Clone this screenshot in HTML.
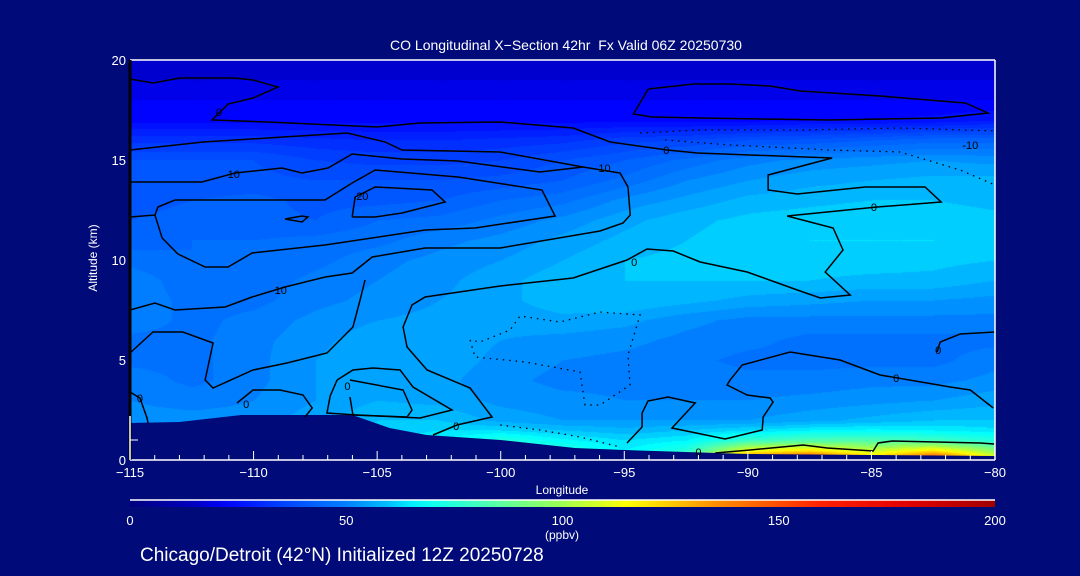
<!DOCTYPE html>
<html><head><meta charset="utf-8">
<style>
html,body{margin:0;padding:0;background:#000a78;}
#wrap{position:relative;width:1080px;height:576px;overflow:hidden;background:#000a78;font-family:"Liberation Sans",sans-serif;}
canvas{position:absolute;left:130px;top:60px;}
svg{position:absolute;left:0;top:0;}
</style></head>
<body>
<div id="wrap">
<canvas id="field" width="865" height="400"></canvas>
<svg id="ov" width="1080" height="576"></svg>
</div>
<script>
// ---- data ----
const gridLon = [-115,-112.5,-110,-107.5,-105,-102.5,-100,-97.5,-95,-92.5,-90,-87.5,-85,-82.5,-80];
const gridAlt = [0,0.5,1,1.5,2,3,4,5,6,7,8,9,10,11,12,13,14,15,16,17,18,19,20];
const row0  = [56,56,56,60,63,67,88,80,67,95,150,170,130,165,118];
const row05 = [56,56,56,60,63,67,80,74,66,74,112,118,105,118,95];
const row1  = [54,54,54,58,61,66,74,67,63,66,78,83,83,80,74];
const row1p5= [53,53,53,57,61,63,63,60,58,60,63,66,67,66,64];
const row2  = [52,52,52,56,60,60,56,54,54,54,54,56,58,60,60];
const row3  = [51,50,51,54,57,56,53,52,51,51,51,52,53,54,56];
const row4  = [50,47,50,54,57,55,52,50,50,50,49,49,50,50,52];
const row5  = [47,47,50,54,57,56,53,51,50,49,47,47,47,47,50];
const row6  = [47,47,50,53,56,56,54,53,52,50,49,47,47,47,47];
const row7  = [50,47,49,52,54,55,55,56,55,52,50,50,50,50,50];
const row8  = [50,47,47,50,52,54,56,59,60,58,56,55,54,54,53];
const row9  = [50,46,46,49,51,53,56,59,60,60,60,60,59,59,57];
const row10 = [47,45,45,47,50,52,54,57,60,61,61,62,62,61,60];
const row11 = [43,45,45,46,47,50,52,55,58,60,62,63,63,63,61];
const row12 = [42,43,43,42,45,46,49,52,56,59,61,62,63,62,61];
const row13 = [41,42,43,41,41,42,45,47,52,55,58,59,60,60,59];
const row14 = [40,40,40,39,39,39,40,42,46,51,54,56,57,58,58];
const row15 = [39,39,39,36,35,35,36,39,42,46,50,52,53,54,53];
const row16 = [32,32,32,31,30,30,31,32,35,36,39,40,42,44,44];
const row17 = [23,23,23,23,23,23,23,23,23,23,23,24,24,25,27];
const row18 = [21,21,21,21,21,21,21,21,21,21,21,21,21,21,21];
const row19 = [18,18,18,18,18,18,18,18,18,18,18,18,18,18,18];
const row20 = [17,17,17,17,17,17,17,17,17,17,17,17,17,17,17];
const terrainLon = [-115,-113,-110.5,-106,-104.5,-103,-100,-97,-95,-90,-85,-80];
const terrainAlt = [1.85,1.9,2.25,2.25,1.6,1.25,1.0,0.6,0.5,0.3,0.25,0.2];
const xTicks = [-115,-110,-105,-100,-95,-90,-85,-80];
const yTicks = [0,5,10,15,20];
const cbTicks = [0,50,100,150,200];
const cA_lon=[-115,-114.07,-112.98,-110.75,-110.02,-109.01,-110.02,-111.03,-111.68,-109.45,-105,-103.26,-100.02,-97.07,-95.57,-93.26,-92.05,-86.59,-89.18,-89.18,-88,-85.25,-82.83,-82.18,-84.77,-88.41,-86.55,-86.15,-86.87,-85.86,-87.07,-88,-90.03,-91.93,-93.02,-94.08,-94.89,-97.07,-100.02,-103.06,-103.59,-103.95,-103.79,-102.98,-101.24,-100.35,-101.77,-102.74];
const cA_alt=[19.05,18.85,19.1,19.1,19.0,18.65,18.1,17.8,17.0,16.9,16.65,16.85,16.9,16.6,15.9,15.5,15.35,15.1,14.25,13.5,13.3,13.65,13.65,12.9,12.65,12.2,11.6,10.5,9.4,8.25,8.1,8.5,9.4,9.9,10.45,10.55,10.0,9.1,8.7,8.15,7.75,6.65,5.65,4.5,3.6,2.15,1.75,1.25];
const cB_lon=[-94.03,-92.21,-90.72,-89.1,-87.88,-84.65,-81.2,-80.28,-82.2,-86.67,-91.92,-93.87,-94.63,-94.03];
const cB_alt=[18.55,18.8,18.8,18.7,18.45,18.2,17.85,17.35,17.1,17.0,17.1,17.15,17.3,18.55];
const cC_lon=[-115,-112.04,-106.21,-104.68,-103.99,-100.02,-96.67,-95.17,-94.85,-94.76,-95.05,-95.98,-100.02,-103.06,-105.2,-106.01,-107.1,-108.73,-110.06,-111.15,-113.18,-113.99,-115];
const cC_alt=[15.5,15.9,16.35,15.9,15.5,15.4,14.65,14.35,13.65,12.25,11.85,11.45,10.6,10.6,10.15,9.35,9.15,8.65,8.15,7.65,7.5,7.85,7.5];
const cD_lon=[-115,-112.09,-110.75,-108.85,-108.04,-106.99,-106.01,-103.99,-101.73,-98.41,-96.67];
const cD_alt=[13.9,13.9,14.35,14.6,14.35,14.6,15.3,15.05,14.95,14.4,14.65];
const cE_lon=[-115,-113.99,-113.7,-113.06,-111.96,-111.03,-110.06,-107.11,-103.06,-101.04,-97.8,-98.33,-101.73,-105.08,-106.01,-107.11,-110.06,-113.18,-113.87,-113.99];
const cE_alt=[12.15,12.25,11.1,10.3,9.65,9.65,10.35,10.75,11.5,11.6,12.2,13.5,14.15,14.5,13.85,13.0,13.0,13.0,12.65,12.25];
const cF_lon=[-106.01,-105.89,-105.08,-102.78,-102.25,-103.99,-105.08,-106.01];
const cF_alt=[12.15,13.15,13.65,13.5,12.9,12.35,12.15,12.15];
const cG_lon=[-108.73,-108.04,-107.8,-108.04,-108.73];
const cG_alt=[12.05,12.2,12.15,11.9,12.05];
const cH_lon=[-115,-114.07,-112.86,-111.64,-111.96,-111.64,-110.02,-108.65,-107.03,-105.98,-105.69,-105.49];
const cH_alt=[5.35,6.4,6.4,5.85,4.0,3.6,4.5,4.85,5.35,6.65,8.0,9.0];
const cI_lon=[-106.62,-105.98,-105.17,-104.07,-103.55,-101.97,-103.26,-105.81,-107.03,-106.9,-106.62];
const cI_alt=[4.0,4.5,4.6,4.5,3.65,2.5,2.1,2.25,2.35,3.2,4.0];
const cJ_lon=[-106.1,-103.95,-103.59,-103.79,-105.98,-106.1];
const cJ_alt=[4.0,3.5,2.5,2.15,2.25,3.15];
const cK_lon=[-110.67,-110.02,-108.93,-108.0,-107.63,-107.92];
const cK_alt=[2.85,3.5,3.5,3.25,2.6,2.15];
const cL_lon=[-115,-114.6,-114.31,-114.27];
const cL_alt=[3.4,3.1,2.1,1.85];
const cM_lon=[-94.89,-94.28,-94.28,-94.04,-93.23,-92.13,-93.07,-90.92,-89.42,-89.38,-88.98,-89.1,-90.03,-90.84,-90.72,-90.23,-88.29,-86.27,-84.65,-81.81,-81.0,-80.07];
const cM_alt=[0.85,1.65,2.35,2.95,3.15,2.85,1.6,1.05,1.5,2.15,2.9,3.1,3.25,3.75,4.0,4.75,5.4,5.0,4.25,3.65,3.5,2.6];
const cN_lon=[-80,-81.41,-82.22,-82.34];
const cN_alt=[6.4,6.3,5.9,5.4];
const cO_lon=[-91.32,-89.91,-87.76,-86.79,-84.93,-84.73,-84.16,-80.6,-80.03];
const cO_alt=[0.35,0.5,0.75,0.6,0.45,0.85,0.95,0.85,0.8];
const dA_lon=[-101.24,-101.04,-99.01,-96.79,-96.59,-95.98,-94.77,-94.85,-94.36,-95.98,-97.6,-99.22,-99.62,-100.84,-101.24];
const dA_alt=[6.0,5.15,4.9,4.4,2.75,2.75,3.75,5.25,7.25,7.4,6.9,7.2,6.5,5.9,6.0];
const dB_lon=[-100.02,-98.41,-96.79,-95.17];
const dB_alt=[1.75,1.5,1.15,0.65];
const dC_lon=[-94.36,-91.93,-87.89,-83.84,-80];
const dC_alt=[16.35,16.5,16.5,16.6,16.45];
const dD_lon=[-93.35,-90.72,-86.67,-83.84,-81.41,-80];
const dD_alt=[16.0,15.75,15.5,15.4,14.5,13.75];
const labelText=["0","10","20","10","0","10","0","0","-10","0","0","0","0","0","0","0"];
const labelLon=[-111.4,-110.8,-105.6,-108.9,-93.3,-95.8,-94.6,-84.9,-81.0,-84.0,-82.3,-101.8,-92.0,-114.6,-110.3,-106.2];
const labelAlt=[17.4,14.3,13.2,8.5,15.5,14.6,9.9,12.65,15.75,4.1,5.5,1.7,0.4,3.1,2.8,3.7];
const rows=[row0,row05,row1,row1p5,row2,row3,row4,row5,row6,row7,row8,row9,row10,row11,row12,row13,row14,row15,row16,row17,row18,row19,row20];

const X0=130,X1=995,Y0=460,Y1=60;
const xs=lon=>X0+(lon+115)/35*(X1-X0);
const ys=alt=>Y0-alt/20*(Y0-Y1);
const cbx=v=>130+v/200*865;

const cmV=[0,15,22,35,50,60,67,80,100,115,135,160,180,200];
const cmC=[[0,0,128],[0,0,192],[0,0,255],[0,64,255],[0,128,255],[0,192,255],[0,255,255],[64,255,192],[160,255,80],[255,255,0],[255,144,0],[255,32,0],[224,0,0],[160,0,0]];
function cmap(v){
  v=Math.max(0,Math.min(200,v));
  for(let i=0;i<cmV.length-1;i++){
    if(v<=cmV[i+1]){const t=(v-cmV[i])/(cmV[i+1]-cmV[i]);
      return cmC[i].map((c,k)=>Math.round(c+(cmC[i+1][k]-c)*t));}
  }
  return cmC[cmC.length-1];
}
function interp(arrX,v){
  for(let i=0;i<arrX.length-1;i++){ if(v<=arrX[i+1]) return [i,Math.max(0,(v-arrX[i])/(arrX[i+1]-arrX[i]))]; }
  return [arrX.length-2,1];
}
const cv=document.getElementById('field');const ctx=cv.getContext('2d');
const img=ctx.createImageData(865,400);
for(let py=0;py<400;py++){
  const alt=(Y0-(py+60))/20; const [j,tj]=interp(gridAlt,Math.max(0,alt));
  for(let px=0;px<865;px++){
    const lon=-115+px/865*35; const [i,ti]=interp(gridLon,lon);
    const a=rows[j][i]*(1-ti)+rows[j][i+1]*ti;
    const b=rows[j+1][i]*(1-ti)+rows[j+1][i+1]*ti;
    let v=a*(1-tj)+b*tj;
    v=Math.floor(v/3)*3+1.5;
    const c=cmap(v);const o=(py*865+px)*4;
    img.data[o]=c[0];img.data[o+1]=c[1];img.data[o+2]=c[2];img.data[o+3]=255;
  }
}
ctx.putImageData(img,0,0);

const NS='http://www.w3.org/2000/svg';
const svg=document.getElementById('ov');
function mk(tag,attrs,parent){const e=document.createElementNS(NS,tag);for(const k in attrs)e.setAttribute(k,attrs[k]);(parent||svg).appendChild(e);return e;}

let tp=`M${xs(-115)},${Y0} `;
terrainLon.forEach((l,k)=>{tp+=`L${xs(l)},${ys(terrainAlt[k])} `;});
tp+=`L${xs(-80)},${Y0} Z`;
const terr=mk('path',{d:tp,fill:'#000a78'});



const solid=[[cA_lon,cA_alt],[cB_lon,cB_alt],[cC_lon,cC_alt],[cD_lon,cD_alt],[cE_lon,cE_alt],[cF_lon,cF_alt],[cG_lon,cG_alt],[cH_lon,cH_alt],[cI_lon,cI_alt],[cJ_lon,cJ_alt],[cK_lon,cK_alt],[cL_lon,cL_alt],[cM_lon,cM_alt],[cN_lon,cN_alt],[cO_lon,cO_alt]];
const dotted=[[dA_lon,dA_alt],[dB_lon,dB_alt],[dC_lon,dC_alt],[dD_lon,dD_alt]];
const cg=mk('g',{});


solid.forEach(([lo,al])=>{
  const pts=lo.map((l,k)=>xs(l)+','+ys(al[k])).join(' ');
  const p=mk('polyline',{points:pts,fill:'none',stroke:'#000','stroke-width':1.5},cg);
  
  
});
dotted.forEach(([lo,al])=>{
  const pts=lo.map((l,k)=>xs(l)+','+ys(al[k])).join(' ');
  const p=mk('polyline',{points:pts,fill:'none',stroke:'#000','stroke-width':1.3,'stroke-dasharray':'1.5 5'},cg);
  
  
});
labelText.forEach((t,k)=>{
  const e=mk('text',{x:xs(labelLon[k]),y:ys(labelAlt[k])+4,'font-size':11,fill:'#000','text-anchor':'middle','font-family':'Liberation Sans, sans-serif'},cg);
  e.textContent=t;
  
  
});

const ax=mk('g',{});


mk('line',{x1:X0,y1:Y1,x2:X1,y2:Y1,stroke:'#fff','stroke-width':1.5},ax);
mk('line',{x1:X1,y1:Y1,x2:X1,y2:Y0,stroke:'#fff','stroke-width':1.5},ax);
mk('line',{x1:X0,y1:Y0,x2:X1,y2:Y0,stroke:'#fff','stroke-width':1.5},ax);
mk('line',{x1:X0,y1:Y1,x2:X0,y2:Y0,stroke:'#000','stroke-width':3},ax);
mk('line',{x1:X0,y1:ys(0),x2:X0,y2:ys(2.2),stroke:'#fff','stroke-width':1.5},ax);
mk('line',{x1:X0,y1:ys(1),x2:X0+8,y2:ys(1),stroke:'#fff','stroke-width':1},ax);
for(let l=-115;l<=-80;l++){
  const major=(l%5===0);
  mk('line',{x1:xs(l),y1:Y0,x2:xs(l),y2:Y0-(major?9:5),stroke:'#fff','stroke-width':1},ax);
}
xTicks.forEach(v=>{
  const t=mk('text',{x:xs(v),y:Y0+17,fill:'#fff','font-size':13,'text-anchor':'middle'},ax);
  t.textContent=(v<0?'\u2212':'')+Math.abs(v);
  
  
});
yTicks.forEach(v=>{
  const t=mk('text',{x:X0-4,y:ys(v)+5,fill:'#fff','font-size':13,'text-anchor':'end'},ax);
  t.textContent=v;
  
  
});
const xt=mk('text',{x:562,y:494,fill:'#fff','font-size':12,'text-anchor':'middle'});
xt.textContent='Longitude';


const yt=mk('text',{x:0,y:0,fill:'#fff','font-size':12,'text-anchor':'middle',transform:'translate(97,258) rotate(-90)'});
yt.textContent='Altitude (km)';


const tt=mk('text',{x:566,y:50,fill:'#fff','font-size':14,'text-anchor':'middle'});
tt.textContent='CO Longitudinal X\u2212Section 42hr  Fx Valid 06Z 20250730';
tt.setAttribute('style','white-space:pre');



const defs=mk('defs',{});
const lg=mk('linearGradient',{id:'cbg',x1:0,x2:1,y1:0,y2:0},defs);
for(let v=0;v<=200;v+=5){const c=cmap(v);mk('stop',{offset:(v/200),'stop-color':`rgb(${c[0]},${c[1]},${c[2]})`},lg);}
const cb=mk('rect',{x:130,y:500,width:865,height:7,fill:'url(#cbg)'});


mk('line',{x1:130,y1:500,x2:995,y2:500,stroke:'#fff','stroke-width':1.5});
cbTicks.forEach(v=>{
  const t=mk('text',{x:cbx(v),y:525,fill:'#fff','font-size':13,'text-anchor':'middle'});
  t.textContent=v;
  
  
});
const un=mk('text',{x:562,y:539,fill:'#fff','font-size':12,'text-anchor':'middle'});
un.textContent='(ppbv)';


const st=mk('text',{x:140,y:561,fill:'#fff','font-size':19});
st.textContent='Chicago/Detroit (42°N) Initialized 12Z 20250728';


</script>
</body></html>
